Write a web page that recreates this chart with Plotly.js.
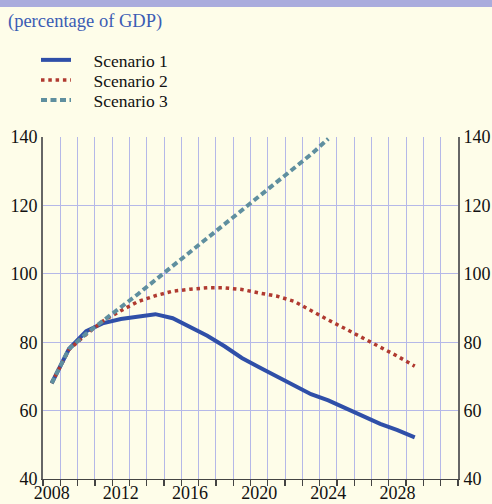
<!DOCTYPE html>
<html>
<head>
<meta charset="utf-8">
<script src="https://cdn.plot.ly/plotly-3.0.1.min.js"></script>
<style>html,body{margin:0;padding:0;background:#fefde9;}#chart{width:492px;height:504px;}</style>
</head>
<body>
<div id="chart"></div>
<script>
const years = [2008,2009,2010,2011,2012,2013,2014,2015,2016,2017,2018,2019,2020,2021,2022,2023,2024,2025,2026,2027,2028,2029];
const scenario1 = [68.0,78.0,83.2,85.6,86.8,87.5,88.2,87.0,84.3,81.9,78.8,75.4,72.7,70.1,67.3,64.8,63.0,60.8,58.5,56.1,54.3,52.2];
const scenario2 = [68.0,77.8,82.3,86.3,89.2,91.9,93.6,94.9,95.5,95.9,95.9,95.4,94.4,93.5,92.0,89.2,86.5,83.9,81.3,78.6,75.9,73.0];
const scenario3Years = [2008,2009,2010,2011,2012,2013,2014,2015,2016,2017,2018,2019,2020,2021,2022,2023,2024];
const scenario3 = [68.0,78.0,82.5,86.3,90.1,94.1,98.2,102.3,106.4,110.4,114.5,118.6,122.6,126.7,130.8,134.9,139.5];
const seriesNames = ["Scenario 1","Scenario 2","Scenario 3"];
const yTicks = [40,60,80,100,120,140];
const xTickYears = [2008,2012,2016,2020,2024,2028];

const serif = "'Liberation Serif', 'Times New Roman', serif";
const pad = "\u00a0\u00a0\u00a0\u00a0";

const traces = [
  {x: years, y: scenario1, name: pad + seriesNames[0], type: 'scatter', mode: 'lines',
   line: {color: '#2f4fa8', width: 4}, legend: 'legend', hoverinfo: 'skip'},
  {x: years, y: scenario2, name: pad + seriesNames[1], type: 'scatter', mode: 'lines',
   line: {color: '#b03a30', width: 3.5, dash: '3.5px,3.8px'}, legend: 'legend2', hoverinfo: 'skip'},
  {x: scenario3Years, y: scenario3, name: pad + seriesNames[2], type: 'scatter', mode: 'lines',
   line: {color: '#5f8f9f', width: 4, dash: '6px,3.5px'}, legend: 'legend3', hoverinfo: 'skip'},
  {x: [years[0]], y: [null], xaxis: 'x2', yaxis: 'y2', showlegend: false, type: 'scatter', mode: 'lines', hoverinfo: 'skip'}
];

const W = 415, H = 342, L = 43, B = 479;
function px2paperX(px){ return (px - L)/W; }
function px2paperY(py){ return (B - py)/H; }

const legendBase = {bgcolor: 'rgba(0,0,0,0)', borderwidth: 0, font: {family: serif, size: 17.5, color: '#111'},
  xanchor: 'left', yanchor: 'middle', x: px2paperX(36)};

const layout = {
  width: 492, height: 504,
  paper_bgcolor: '#fefde9', plot_bgcolor: '#fefde9',
  margin: {l: L, r: 492 - 458, t: 137, b: 504 - B},
  showlegend: true,
  title: {text: '(percentage of GDP)', font: {family: serif, size: 18.5, color: '#3b5cb4'},
    xref: 'container', yref: 'container', x: 8/492, xanchor: 'left', y: 1 - 21/504, yanchor: 'middle'},
  legend: Object.assign({}, legendBase, {y: px2paperY(60)}),
  legend2: Object.assign({}, legendBase, {y: px2paperY(80)}),
  legend3: Object.assign({}, legendBase, {y: px2paperY(100)}),
  xaxis: {range: [2007.5, 2031.5], tick0: 2007.5, dtick: 1, showgrid: true, gridcolor: '#b5b8e8', gridwidth: 1,
    showticklabels: false, ticks: 'outside', ticklen: 6, tickcolor: '#444', tickwidth: 1.3,
    showline: true, linecolor: '#444', linewidth: 1.3, zeroline: false, fixedrange: true},
  xaxis2: {overlaying: 'x', anchor: 'y', side: 'bottom', range: [2007.5, 2031.5], tickvals: xTickYears,
    ticktext: xTickYears.map(String), showgrid: false, ticks: '', showline: false, zeroline: false,
    ticklabelstandoff: 1, tickfont: {family: serif, size: 18, color: '#111'}},
  yaxis: {range: [40, 140], tickvals: yTicks, showgrid: true, gridcolor: '#b5b8e8', gridwidth: 1,
    showline: true, linecolor: '#666', linewidth: 2, ticks: '', zeroline: false,
    tickfont: {family: serif, size: 18, color: '#111'}},
  yaxis2: {overlaying: 'y', side: 'right', anchor: 'x', range: [40, 140], tickvals: yTicks, showgrid: false,
    showline: true, linecolor: '#666', linewidth: 2, ticks: '', zeroline: false,
    tickfont: {family: serif, size: 18, color: '#111'}},
  shapes: [{type: 'rect', xref: 'paper', yref: 'paper', x0: px2paperX(0), x1: px2paperX(492),
    y0: px2paperY(7), y1: px2paperY(0), fillcolor: '#aaacdd', line: {width: 0}, layer: 'below'}]
};

Plotly.newPlot('chart', traces, layout, {displayModeBar: false, staticPlot: true});
</script>
</body>
</html>
